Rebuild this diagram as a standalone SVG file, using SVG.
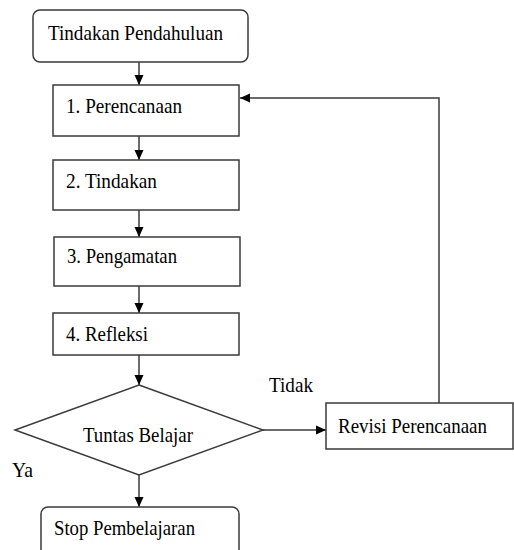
<svg xmlns="http://www.w3.org/2000/svg" width="514" height="550" viewBox="0 0 514 550">
<style>
.box{fill:#fff;stroke:#3a3a3a;stroke-width:1.5}
.t{font-family:"Liberation Serif","Times New Roman",serif;font-size:22px;fill:#000}
.c{fill:none;stroke:#3a3a3a;stroke-width:1.5}
</style>
<defs>
<marker id="ah" viewBox="0 0 10 10" refX="10" refY="5" markerWidth="10" markerHeight="10" markerUnits="userSpaceOnUse" orient="auto">
<path d="M0,0.5 L10,5 L0,9.5 Z" fill="#000"/>
</marker>
</defs>
<rect width="514" height="550" fill="#fff"/>
<g id="connectors">
<line class="c" x1="139" y1="62" x2="139" y2="85" marker-end="url(#ah)"/>
<line class="c" x1="139" y1="136" x2="139" y2="160" marker-end="url(#ah)"/>
<line class="c" x1="139" y1="210" x2="139" y2="237" marker-end="url(#ah)"/>
<line class="c" x1="139" y1="286" x2="139" y2="313" marker-end="url(#ah)"/>
<line class="c" x1="139" y1="355" x2="139" y2="385" marker-end="url(#ah)"/>
<line class="c" x1="139" y1="475" x2="139" y2="507" marker-end="url(#ah)"/>
<line class="c" x1="263" y1="430" x2="326" y2="430" marker-end="url(#ah)"/>
<polyline class="c" points="439,403 439,98 240,98" marker-end="url(#ah)"/>
</g>
<g id="n-pendahuluan">
<rect class="box" x="33" y="10" width="215" height="52" rx="7"/>
<text class="t" x="48" y="40" textLength="175" lengthAdjust="spacingAndGlyphs">Tindakan Pendahuluan</text>
</g>
<g id="n-perencanaan">
<rect class="box" x="53" y="85" width="186" height="51"/>
<text class="t" x="66" y="113" textLength="116" lengthAdjust="spacingAndGlyphs">1. Perencanaan</text>
</g>
<g id="n-tindakan">
<rect class="box" x="53" y="160" width="186" height="50"/>
<text class="t" x="66" y="188" textLength="91" lengthAdjust="spacingAndGlyphs">2. Tindakan</text>
</g>
<g id="n-pengamatan">
<rect class="box" x="54" y="237" width="186" height="49"/>
<text class="t" x="67" y="263" textLength="110" lengthAdjust="spacingAndGlyphs">3. Pengamatan</text>
</g>
<g id="n-refleksi">
<rect class="box" x="53" y="313" width="186" height="42"/>
<text class="t" x="66" y="341" textLength="82" lengthAdjust="spacingAndGlyphs">4. Refleksi</text>
</g>
<g id="n-tuntas">
<polygon class="box" points="139,385 263,430 139,475 15,430"/>
<text class="t" x="83" y="442" textLength="110" lengthAdjust="spacingAndGlyphs">Tuntas Belajar</text>
</g>
<g id="n-revisi">
<rect class="box" x="326" y="403" width="187" height="46"/>
<text class="t" x="338" y="433" textLength="149" lengthAdjust="spacingAndGlyphs">Revisi Perencanaan</text>
</g>
<g id="n-stop">
<rect class="box" x="41" y="507" width="198" height="52" rx="7"/>
<text class="t" x="54" y="535" textLength="141" lengthAdjust="spacingAndGlyphs">Stop Pembelajaran</text>
</g>
<g id="labels">
<text class="t" x="269" y="392" textLength="44" lengthAdjust="spacingAndGlyphs">Tidak</text>
<text class="t" x="12" y="477" textLength="21" lengthAdjust="spacingAndGlyphs">Ya</text>
</g>
</svg>
